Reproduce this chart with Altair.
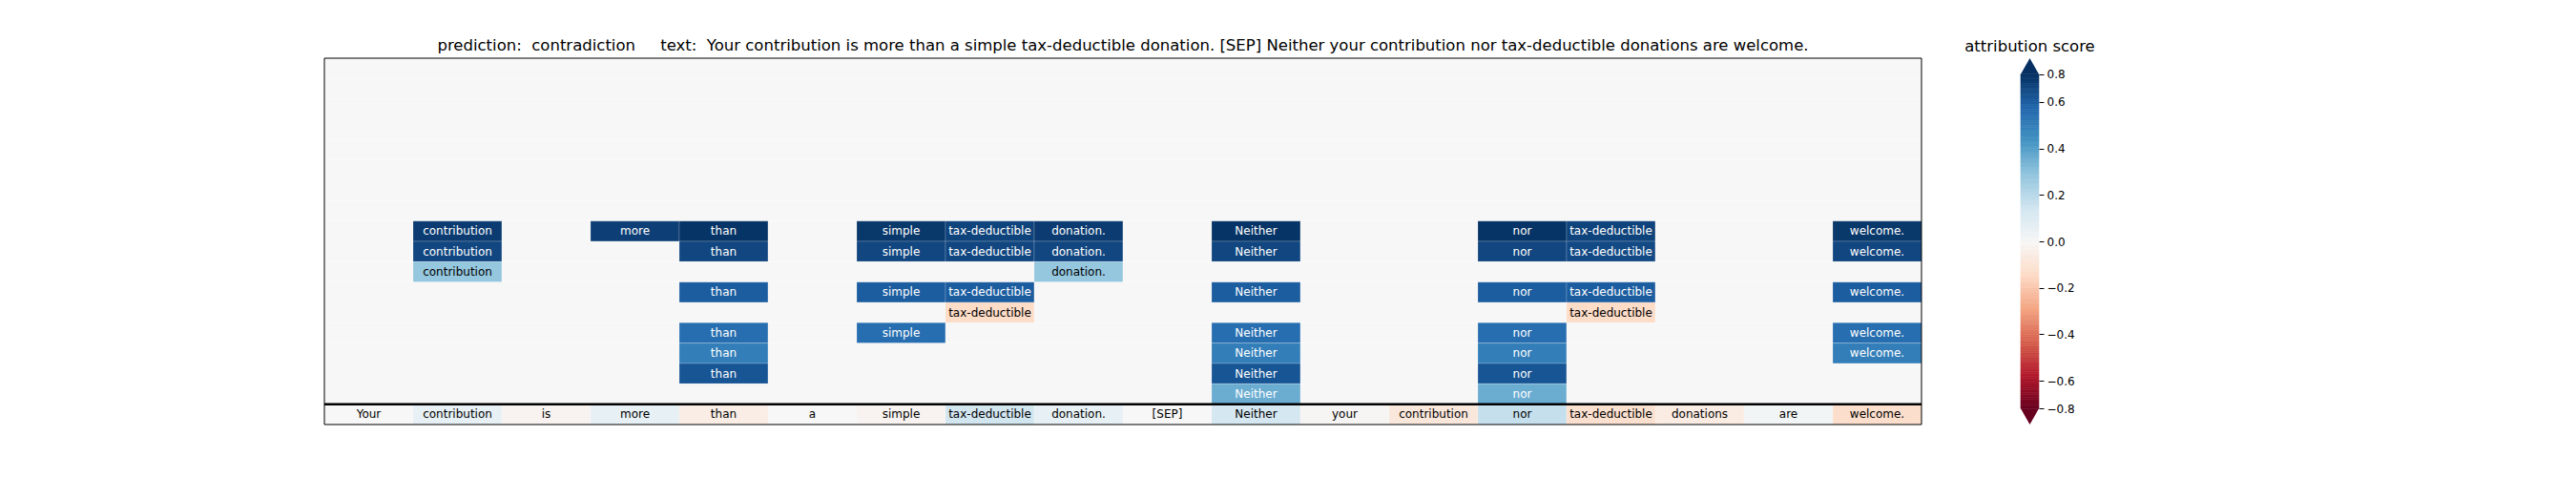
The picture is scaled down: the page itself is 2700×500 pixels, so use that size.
import altair as alt
import numpy as np
import pandas as pd

# ---------------- data ----------------
prediction = "contradiction"
tokens = ["Your", "contribution", "is", "more", "than", "a", "simple",
          "tax-deductible", "donation.", "[SEP]", "Neither", "your",
          "contribution", "nor", "tax-deductible", "donations", "are", "welcome."]

# attribution of the input tokens (bottom row)
input_scores = [0.0, 0.06, -0.02, 0.06, -0.05, 0.0, -0.02, 0.14, 0.06, 0.0,
                0.13, -0.01, -0.08, 0.17, -0.12, -0.06, 0.02, -0.13]

# upper rows, top to bottom (first 8 rows are empty)
n_empty_rows = 8
row_a = [0, 0.69, 0, 0.68, 0.71, 0, 0.70, 0.67, 0.69, 0, 0.71, 0, 0, 0.71, 0.67, 0, 0, 0.70]
row_b = [0, 0.66, 0, 0, 0.66, 0, 0.66, 0.66, 0.66, 0, 0.66, 0, 0, 0.66, 0.65, 0, 0, 0.66]
row_c = [0, 0.28, 0, 0, 0, 0, 0, 0, 0.28, 0, 0, 0, 0, 0, 0, 0, 0, 0]
row_d = [0, 0, 0, 0, 0.60, 0, 0.60, 0.60, 0, 0, 0.60, 0, 0, 0.60, 0.60, 0, 0, 0.60]
row_e = [0, 0, 0, 0, 0, 0, 0, -0.14, 0, 0, 0, 0, 0, 0, -0.14, 0, 0, 0]
row_f = [0, 0, 0, 0, 0.55, 0, 0.55, 0, 0, 0, 0.55, 0, 0, 0.55, 0, 0, 0, 0.55]
row_g = [0, 0, 0, 0, 0.50, 0, 0, 0, 0, 0, 0.50, 0, 0, 0.50, 0, 0, 0, 0.50]
row_h = [0, 0, 0, 0, 0.62, 0, 0, 0, 0, 0, 0.62, 0, 0, 0.62, 0, 0, 0, 0]
row_i = [0, 0, 0, 0, 0, 0, 0, 0, 0, 0, 0.36, 0, 0, 0.36, 0, 0, 0, 0]

color_min, color_max = -0.72, 0.72
cbar_tick_values = [-0.719, -0.6, -0.4, -0.2, 0.0, 0.2, 0.4, 0.6, 0.719]
arrow_values = [0.8, -0.8]
arrow_dirs = ["up", "down"]
arrow_pos = [0.754, -0.754]
separator_level = [1]

# RdBu colour ramp (matplotlib style, linear segments)
rdbu = ["#67001f", "#b2182b", "#d6604d", "#f4a582", "#fddbc7", "#f7f7f7",
        "#d1e5f0", "#92c5de", "#4393c3", "#2166ac", "#053061"]

# ---------------- build tables ----------------
upper_rows = [[0] * len(tokens) for _ in range(n_empty_rows)] + \
    [row_a, row_b, row_c, row_d, row_e, row_f, row_g, row_h, row_i]
n_rows = len(upper_rows) + 1
records = []
for i, row in enumerate(upper_rows):
    level = len(upper_rows) - i
    for c, v in enumerate(row):
        records.append(dict(col=c, col2=c + 1, level=level, level2=level + 1,
                            score=v, token=tokens[c], label=bool(v != 0)))
for c, v in enumerate(input_scores):
    records.append(dict(col=c, col2=c + 1, level=0, level2=1,
                        score=v, token=tokens[c], label=True))
df = pd.DataFrame(records)

FONT = "DejaVu Sans"
stops = list(np.round(np.linspace(color_min, color_max, len(rdbu)), 4))
color_scale = alt.Scale(domain=stops, range=rdbu, interpolate="rgb", clamp=True)
xs = alt.Scale(domain=[0, len(tokens)], nice=False, zero=False)
ys = alt.Scale(domain=[0, n_rows], nice=False, zero=False)

base = alt.Chart(df)
rects = base.mark_rect(stroke="white", strokeOpacity=0.25, strokeWidth=0.8).encode(
    x=alt.X("col:Q", scale=xs, axis=None),
    x2="col2:Q",
    y=alt.Y("level:Q", scale=ys, axis=None),
    y2="level2:Q",
    color=alt.Color("score:Q", scale=color_scale, legend=None),
)
texts = base.transform_filter("datum.label").transform_calculate(
    xc="datum.col + 0.5", yc="datum.level + 0.5"
).mark_text(font=FONT, fontSize=12).encode(
    x=alt.X("xc:Q", scale=xs, axis=None),
    y=alt.Y("yc:Q", scale=ys, axis=None),
    text="token:N",
    color=alt.condition(alt.expr.abs(alt.datum.score) > 0.32,
                        alt.value("white"), alt.value("black")),
)
sep = alt.Chart(pd.DataFrame({"level": separator_level})).mark_rule(
    color="black", strokeWidth=2.5
).encode(y=alt.Y("level:Q", scale=ys, axis=None))
frame = alt.Chart(pd.DataFrame({"x": [0], "x2": [len(tokens)], "y": [0], "y2": [n_rows]})).mark_rect(
    fillOpacity=0, stroke="black", strokeWidth=1
).encode(
    x=alt.X("x:Q", scale=xs, axis=None), x2="x2:Q",
    y=alt.Y("y:Q", scale=ys, axis=None), y2="y2:Q",
)

title_text = ("prediction:\u00a0\u00a0" + prediction + "\u00a0\u00a0\u00a0\u00a0\u00a0text:\u00a0\u00a0"
              + " ".join(tokens))
main = alt.layer(rects, texts, sep, frame).properties(
    width=1674, height=384,
    title=alt.TitleParams(title_text, font=FONT, fontSize=16.5, fontWeight="normal",
                          color="black", anchor="middle", offset=4),
    view=alt.ViewBackground(strokeOpacity=0),
)

# ---------------- colorbar ----------------
edges = np.linspace(color_min, color_max, 145)
cb_df = pd.DataFrame({"lo": edges[:-1], "hi": edges[1:], "mid": (edges[:-1] + edges[1:]) / 2})
cb_y = alt.Scale(domain=[-0.7885, 0.7885], nice=False, zero=False)
label_expr = ("datum.value > 0.7 ? '0.8' : (datum.value < -0.7 ? '\u22120.8' : "
              "format(datum.value, '.1f'))")
cbar = alt.Chart(cb_df).mark_rect(strokeWidth=0.6).encode(
    y=alt.Y("lo:Q", scale=cb_y, title=None,
            axis=alt.Axis(orient="right", values=cbar_tick_values, labelExpr=label_expr,
                          domain=False, grid=False, tickSize=5, tickColor="black",
                          tickWidth=1, labelFont=FONT, labelFontSize=12,
                          labelColor="black", labelPadding=3)),
    y2="hi:Q",
    x=alt.value(0), x2=alt.value(19),
    color=alt.Color("mid:Q", scale=color_scale, legend=None),
    stroke=alt.Stroke("mid:Q", scale=color_scale, legend=None),
)
up_path = "M -1 0.88 L 0 -0.88 L 1 0.88 Z"
down_path = "M -1 -0.88 L 0 0.88 L 1 -0.88 Z"
arrows = alt.Chart(pd.DataFrame({"pos": arrow_pos, "val": arrow_values, "dir": arrow_dirs})).mark_point(
    filled=True, size=361, opacity=1, strokeWidth=0
).encode(
    y=alt.Y("pos:Q", scale=cb_y),
    x=alt.value(9.5),
    color=alt.Color("val:Q", scale=color_scale, legend=None),
    shape=alt.Shape("dir:N", scale=alt.Scale(domain=["up", "down"], range=[up_path, down_path]),
                    legend=None),
)
colorbar = alt.layer(cbar, arrows).properties(
    width=19, height=384,
    title=alt.TitleParams("attribution score", font=FONT, fontSize=16.5, fontWeight="normal",
                          color="black", anchor="middle", offset=4),
    view=alt.ViewBackground(strokeOpacity=0),
)

chart = alt.hconcat(main, colorbar, spacing=104, bounds="flush").properties(
    padding={"left": 330, "top": 32, "right": 10, "bottom": 5},
    background="white",
)
chart.save("out.html", embed_options={"renderer": "svg", "actions": False})
